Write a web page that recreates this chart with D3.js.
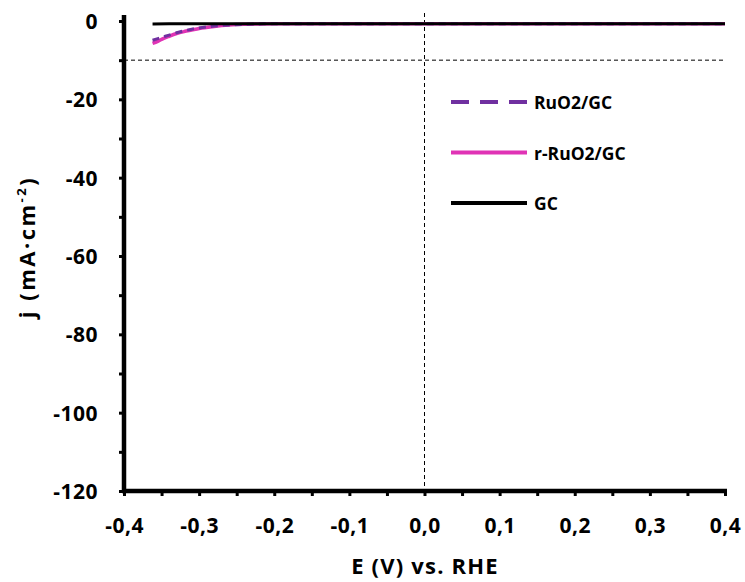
<!DOCTYPE html>
<html><head><meta charset="utf-8">
<script src="https://cdn.jsdelivr.net/npm/d3@7"></script>
<style>body{margin:0;background:#fff}svg{display:block}text{font-family:"Open Sans",sans-serif;font-weight:700;fill:#000}</style>
</head><body><svg id="c" width="745" height="582"></svg>
<script>
const xTicks = [-0.4,-0.3,-0.2,-0.1,0.0,0.1,0.2,0.3,0.4];
const yTicks = [0,-20,-40,-60,-80,-100,-120];
const seriesNames = ["RuO2/GC","r-RuO2/GC","GC"];
const seriesColors = ["#7030A0","#E033B5","#000000"];
const E_ru = [-0.362,-0.355,-0.35,-0.34,-0.33,-0.32,-0.31,-0.30,-0.28,-0.26,-0.24,-0.22,-0.2,-0.1,0.0,0.1,0.2,0.3,0.4];
const j_ru = [-4.9,-4.5,-4.2,-3.6,-3.0,-2.5,-2.1,-1.8,-1.3,-1.0,-0.85,-0.75,-0.7,-0.7,-0.7,-0.7,-0.7,-0.7,-0.7];
const E_rru = [-0.362,-0.355,-0.35,-0.34,-0.33,-0.32,-0.31,-0.30,-0.28,-0.26,-0.24,-0.22,-0.2,-0.1,0.0,0.1,0.2,0.3,0.4];
const j_rru = [-5.7,-5.2,-4.7,-3.9,-3.2,-2.7,-2.3,-1.9,-1.4,-1.05,-0.85,-0.75,-0.7,-0.7,-0.7,-0.7,-0.7,-0.7,-0.7];
const E_gc = [-0.362,-0.34,-0.32,-0.30,-0.25,-0.2,-0.1,0.0,0.1,0.2,0.3,0.4];
const j_gc = [-0.75,-0.72,-0.7,-0.7,-0.7,-0.7,-0.7,-0.7,-0.7,-0.7,-0.7,-0.7];
const refJ = -10, refE = 0;

const svg = d3.select("#c");
const x = d3.scaleLinear().domain([-0.4,0.4]).range([124,725]);
const y = d3.scaleLinear().domain([-120,0]).range([491,21]);

// reference dashed lines
svg.append("line").attr("x1",x(-0.4)).attr("x2",x(0.4)).attr("y1",y(refJ)).attr("y2",y(refJ))
  .attr("stroke","#000").attr("stroke-width",1).attr("stroke-dasharray","4,3");
svg.append("line").attr("x1",x(refE)).attr("x2",x(refE)).attr("y1",y(0)-8).attr("y2",y(-120))
  .attr("stroke","#000").attr("stroke-width",1).attr("stroke-dasharray","4,3");

// axes
const yAxis = d3.axisLeft(y).tickValues(d3.range(0,-121,-10)).tickSize(5).tickFormat(d=> yTicks.includes(d)? d3.format("d")(d).replace("−","-"):"");
const gy = svg.append("g").attr("transform",`translate(${x(-0.4)},0)`).call(yAxis);
gy.select(".domain").attr("stroke-width",4.5).attr("d",`M0,${y(0)-6}V${y(-120)+2}`);
gy.selectAll(".tick line").attr("stroke-width",3);
gy.selectAll(".tick text").attr("x",-26).attr("dy","0.36em").attr("font-size",21).style("letter-spacing","0.5px")
  .style("font-family","'Open Sans',sans-serif").style("font-weight",700).attr("fill","#000");

const xAxis = d3.axisBottom(x).tickValues(d3.range(-8,9).map(i=>i*0.05)).tickSize(5)
  .tickFormat(d=>{const r=Math.round(d*100)/100; return (Math.round(r*10)===r*10)? d3.format(".1f")(r).replace("−","-").replace(".",","):"";});
const gx = svg.append("g").attr("transform",`translate(0,${y(-120)})`).call(xAxis);
gx.select(".domain").attr("stroke-width",4.5).attr("d",`M${x(-0.4)-2},0H${x(0.4)+2}`);
gx.selectAll(".tick line").attr("stroke-width",3);
gx.selectAll(".tick text").attr("y",42).attr("dy",0).attr("font-size",21).style("letter-spacing","0.5px")
  .style("font-family","'Open Sans',sans-serif").style("font-weight",700).attr("fill","#000");

// curves
const line = d3.line().x(d=>x(d[0])).y(d=>y(d[1])).curve(d3.curveMonotoneX);
const data = [d3.zip(E_ru,j_ru), d3.zip(E_rru,j_rru), d3.zip(E_gc,j_gc)];
svg.append("path").datum(data[1]).attr("d",line).attr("fill","none").attr("stroke",seriesColors[1]).attr("stroke-width",3.5);
svg.append("path").datum(data[0]).attr("d",line).attr("fill","none").attr("stroke",seriesColors[0]).attr("stroke-width",3).attr("stroke-dasharray","7,5");
svg.append("path").datum(data[2]).attr("d",line).attr("fill","none").attr("stroke",seriesColors[2]).attr("stroke-width",3);

// legend
const leg = svg.append("g");
seriesNames.forEach((n,i)=>{
  const yy = 102 + i*50.5;
  leg.append("line").attr("x1",451).attr("x2",527).attr("y1",yy).attr("y2",yy)
    .attr("stroke",seriesColors[i]).attr("stroke-width",4).attr("stroke-dasharray", i===0?"18,11":null);
  leg.append("text").attr("x",534).attr("y",yy+7).attr("font-size",17.5).text(n);
});

// titles
svg.append("text").attr("x",425).attr("y",574).attr("text-anchor","middle").attr("font-size",22).style("letter-spacing","1.2px").text("E (V) vs. RHE");
const yt = svg.append("text").attr("transform","translate(35,247) rotate(-90)").attr("text-anchor","middle").attr("font-size",22).style("letter-spacing","2.5px");
yt.append("tspan").text("j (mA·cm");
yt.append("tspan").attr("dy",-9).attr("font-size",13).text("-2");
yt.append("tspan").attr("dy",9).text(")");
</script></body></html>
